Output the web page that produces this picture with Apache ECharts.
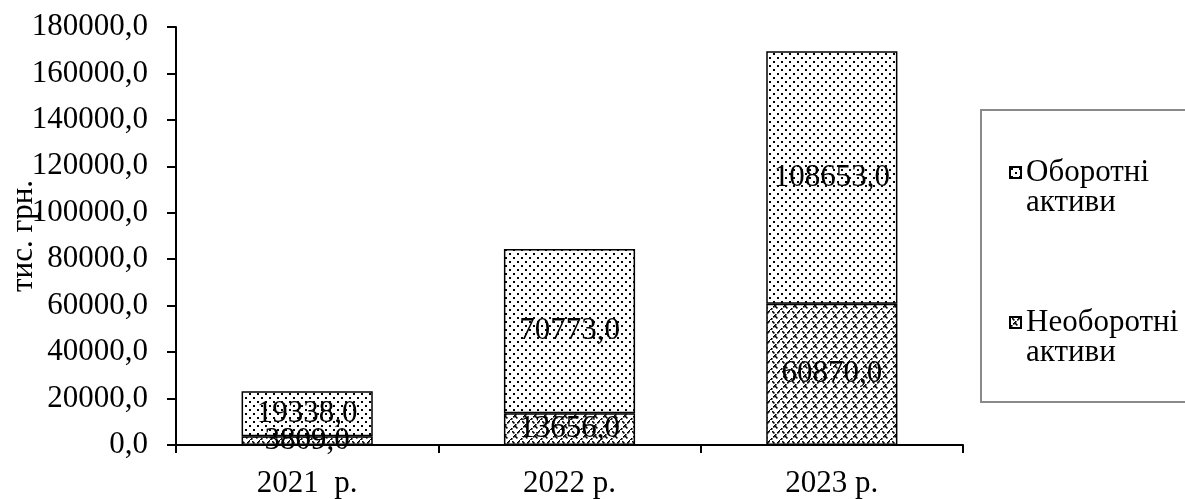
<!DOCTYPE html>
<html>
<head>
<meta charset="utf-8">
<script src="https://cdn.jsdelivr.net/npm/echarts@6/dist/echarts.min.js"></script>
<style>
html,body{margin:0;padding:0;background:#fff;}
#c{width:1185px;height:499px;}
</style>
</head>
<body>
<div id="c"></div>
<script>
const categories = ['2021  р.', '2022 р.', '2023 р.'];
const nonCurrentAssets = [3809.0, 13656.0, 60870.0];
const currentAssets = [19338.0, 70773.0, 108653.0];
const seriesNames = ['Необоротні активи', 'Оборотні активи'];
const yAxisName = 'тис. грн.';

function dotPattern() {
  const c = document.createElement('canvas');
  c.width = 8; c.height = 8;
  const x = c.getContext('2d');
  x.fillStyle = '#fff'; x.fillRect(0, 0, 8, 8);
  x.fillStyle = '#000';
  x.fillRect(1, 1, 2, 2);
  x.fillRect(5, 5, 2, 2);
  return c;
}
function hatchPattern() {
  const c = document.createElement('canvas');
  c.width = 10; c.height = 10;
  const x = c.getContext('2d');
  x.fillStyle = '#fff'; x.fillRect(0, 0, 10, 10);
  x.fillStyle = '#000';
  const px = [[9,0],[8,1],[7,2],[5,4],[4,5],[3,6],[1,8],[0,9],[5,6],[6,7],[2,1],[3,2]];
  px.forEach(p => x.fillRect(p[0], p[1], 1.6, 1.6));
  return c;
}
const dots = dotPattern();
const hatch = hatchPattern();

const font = 'Liberation Serif, Times New Roman, serif';
const fs = 31;
const fmt = v => Number(v).toFixed(1).replace('.', ',');

const chart = echarts.init(document.getElementById('c'));
chart.setOption({
  animation: false,
  backgroundColor: '#fff',
  grid: { left: 176, right: 222, top: 27, bottom: 54, containLabel: false, outerBoundsMode: 'none' },
  xAxis: {
    type: 'category',
    data: categories,
    boundaryGap: true,
    axisLine: { lineStyle: { color: '#000', width: 2 } },
    axisTick: { show: true, length: 8, inside: false, lineStyle: { color: '#000', width: 2 } },
    axisLabel: { color: '#000', fontFamily: font, fontSize: fs, margin: 23 },
    splitLine: { show: false }
  },
  yAxis: {
    type: 'value',
    min: 0, max: 180000, interval: 20000,
    name: yAxisName,
    nameLocation: 'middle',
    nameGap: 137,
    nameMoveOverlap: false,
    nameTextStyle: { color: '#000', fontFamily: font, fontSize: fs },
    axisLine: { show: true, lineStyle: { color: '#000', width: 2 } },
    axisTick: { show: true, length: 9, lineStyle: { color: '#000', width: 2 } },
    axisLabel: { color: '#000', fontFamily: font, fontSize: fs, margin: 28, formatter: fmt },
    splitLine: { show: false }
  },
  legend: {
    orient: 'vertical',
    left: 981, top: 110,
    padding: [17, 30, 34, 28],
    itemGap: 59,
    itemWidth: 11, itemHeight: 11,
    icon: 'rect',
    backgroundColor: '#fff',
    borderColor: '#8a8a8a', borderWidth: 2,
    data: [
      { name: 'Оборотні активи', icon: 'rect', itemStyle: { color: { image: dots, repeat: 'repeat' }, borderColor: '#000', borderWidth: 2 } },
      { name: 'Необоротні активи', icon: 'rect', itemStyle: { color: { image: hatch, repeat: 'repeat' }, borderColor: '#000', borderWidth: 2 } }
    ],
    formatter: n => '\n' + n.replace(' ', '\n'),
    textStyle: { color: '#000', fontFamily: font, fontSize: fs, lineHeight: 30 }
  },
  series: [
    {
      name: seriesNames[0], type: 'bar', stack: 'total', barWidth: '50%',
      data: nonCurrentAssets,
      itemStyle: { color: { image: hatch, repeat: 'repeat' }, borderColor: '#000', borderWidth: 1.5 },
      label: { show: true, position: 'inside', color: '#000', fontFamily: font, fontSize: fs, formatter: p => fmt(p.value) }
    },
    {
      name: seriesNames[1], type: 'bar', stack: 'total', barWidth: '50%',
      data: currentAssets,
      itemStyle: { color: { image: dots, repeat: 'repeat' }, borderColor: '#000', borderWidth: 1.5 },
      label: { show: true, position: 'inside', color: '#000', fontFamily: font, fontSize: fs, formatter: p => fmt(p.value) }
    }
  ]
});
</script>
</body>
</html>
